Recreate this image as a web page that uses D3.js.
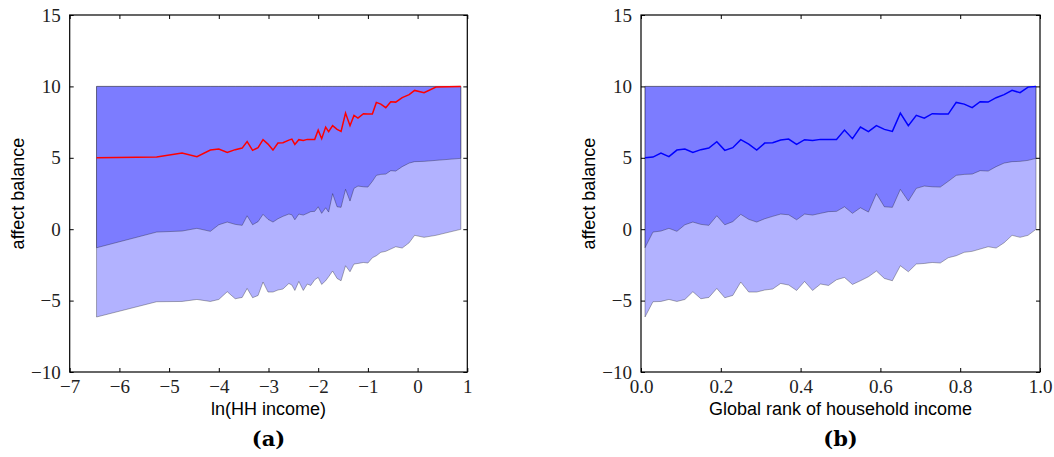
<!DOCTYPE html>
<html>
<head>
<meta charset="utf-8">
<script src="https://cdn.jsdelivr.net/npm/d3@7"></script>
<style>
  body { margin: 0; background: #fff; }
  svg { display: block; }
  .tick text { font-family: "Liberation Serif", "DejaVu Serif", serif; }
</style>
</head>
<body>
<svg id="chart" width="1054" height="457"></svg>
<script>
// x positions of the 50 income bins, one list per panel
var rankX = [0.01, 0.03, 0.05, 0.07, 0.09, 0.11, 0.13, 0.15, 0.17, 0.19,
             0.21, 0.23, 0.25, 0.27, 0.29, 0.31, 0.33, 0.35, 0.37, 0.39,
             0.41, 0.43, 0.45, 0.47, 0.49, 0.51, 0.53, 0.55, 0.57, 0.59,
             0.61, 0.63, 0.65, 0.67, 0.69, 0.71, 0.73, 0.75, 0.77, 0.79,
             0.81, 0.83, 0.85, 0.87, 0.89, 0.91, 0.93, 0.95, 0.97, 0.99];
var lnIncomeX = [-6.46, -5.25, -4.74, -4.44, -4.17, -4.0, -3.83, -3.67, -3.53, -3.43,
                 -3.32, -3.21, -3.11, -3.01, -2.91, -2.81, -2.71, -2.59, -2.53, -2.47,
                 -2.39, -2.30, -2.22, -2.15, -2.07, -2.0, -1.93, -1.85, -1.79, -1.71,
                 -1.62, -1.54, -1.45, -1.36, -1.28, -1.20, -1.09, -1.0, -0.91, -0.83,
                 -0.74, -0.64, -0.54, -0.44, -0.31, -0.17, -0.06, 0.13, 0.37, 0.87];

// affect balance per bin: median, lower edge of dark band, lower edge of light band
var medianY = [5.0, 5.05, 5.33, 5.08, 5.54, 5.61, 5.38, 5.57, 5.68, 6.13,
               5.52, 5.71, 6.27, 5.96, 5.54, 6.03, 6.06, 6.24, 6.31, 5.94,
               6.27, 6.22, 6.29, 6.29, 6.29, 6.94, 6.34, 7.15, 6.83, 7.25,
               6.99, 6.85, 8.13, 7.25, 7.97, 7.78, 8.09, 8.06, 8.06, 8.88,
               8.76, 8.51, 8.93, 8.90, 9.21, 9.42, 9.72, 9.56, 9.95, 10.0];
var midY = [-1.30, -0.20, -0.13, 0.06, -0.15, 0.31, 0.50, 0.34, 0.27, 0.94,
            0.31, 0.53, 1.04, 0.69, 0.50, 0.73, 0.90, 1.06, 1.01, 0.66,
            1.06, 0.99, 1.11, 1.23, 1.25, 1.57, 1.11, 1.50, 1.20, 2.49,
            1.57, 1.53, 2.79, 1.97, 2.86, 3.02, 2.97, 2.95, 3.35, 3.77,
            3.84, 3.86, 4.10, 4.07, 4.38, 4.63, 4.73, 4.75, 4.82, 4.96];
var lowerY = [-6.15, -5.08, -5.06, -4.92, -5.06, -4.92, -4.38, -4.87, -4.78, -4.15,
              -4.80, -4.64, -3.70, -4.40, -4.40, -4.26, -4.19, -3.80, -3.91, -4.29,
              -3.66, -4.29, -3.84, -3.94, -3.54, -3.38, -3.87, -3.61, -3.33, -2.93,
              -3.45, -3.61, -2.56, -2.98, -2.44, -2.40, -2.33, -2.37, -2.0, -1.86,
              -1.62, -1.55, -1.39, -1.23, -1.32, -0.95, -0.43, -0.57, -0.43, -0.01];
var bandTop = 10;

var yTicks = [-10, -5, 0, 5, 10, 15];
var lnTicks = [-7, -6, -5, -4, -3, -2, -1, 0, 1];
var rankTicks = [0.0, 0.2, 0.4, 0.6, 0.8, 1.0];

var svg = d3.select("#chart");
var plotTop = 15, plotBottom = 372;

var y = d3.scaleLinear().domain([-10, 15]).range([plotBottom, plotTop]);

function minus(s) { return s.replace("-", "\u2212"); }

function drawPanel(opts) {
    var x = d3.scaleLinear().domain(opts.domain).range([opts.left, opts.right]);
    var g = svg.append("g");
    var pts = opts.xs.map(function(v, i) { return i; });

    var outer = d3.area()
        .x(function(i) { return x(opts.xs[i]); })
        .y0(function(i) { return y(lowerY[i]); })
        .y1(function() { return y(bandTop); });
    var inner = d3.area()
        .x(function(i) { return x(opts.xs[i]); })
        .y0(function(i) { return y(midY[i]); })
        .y1(function() { return y(bandTop); });

    [outer, inner].forEach(function(a) {
        g.append("path")
            .attr("d", a(pts))
            .attr("fill", "rgba(0,0,255,0.3)")
            .attr("stroke", "rgba(0,0,0,0.3)")
            .attr("stroke-width", 1);
    });

    g.append("path")
        .attr("d", d3.line()
            .x(function(i) { return x(opts.xs[i]); })
            .y(function(i) { return y(medianY[i]); })(pts))
        .attr("fill", "none")
        .attr("stroke", opts.lineColor)
        .attr("stroke-width", 1.5);

    // axes, ticks pointing inward on all four sides
    var fmtX = opts.fmt;
    g.append("g").attr("transform", "translate(0," + plotBottom + ")")
        .call(d3.axisBottom(x).tickValues(opts.ticks).tickSizeInner(-4).tickSizeOuter(0).tickPadding(8)
            .tickFormat(function(d) { return minus(fmtX(d)); }));
    g.append("g").attr("transform", "translate(0," + plotTop + ")")
        .call(d3.axisTop(x).tickValues(opts.ticks).tickSizeInner(-4).tickSizeOuter(0).tickFormat(""));
    g.append("g").attr("transform", "translate(" + opts.left + ",0)")
        .call(d3.axisLeft(y).tickValues(yTicks).tickSizeInner(-4).tickSizeOuter(0).tickPadding(9)
            .tickFormat(function(d) { return minus(String(d)); }));
    g.append("g").attr("transform", "translate(" + opts.right + ",0)")
        .call(d3.axisRight(y).tickValues(yTicks).tickSizeInner(-4).tickSizeOuter(0).tickFormat(""));

    g.selectAll(".domain").remove();
    g.selectAll(".tick line").attr("stroke", "#000");
    g.selectAll(".tick text").attr("font-size", 19).attr("fill", "#222");

    g.append("rect")
        .attr("x", opts.left).attr("y", plotTop)
        .attr("width", opts.right - opts.left).attr("height", plotBottom - plotTop)
        .attr("fill", "none").attr("stroke", "#000").attr("stroke-width", 1.2);

    var cx = (opts.left + opts.right) / 2;
    g.append("text")
        .attr("x", cx).attr("y", 415)
        .attr("text-anchor", "middle")
        .attr("font-family", "Liberation Sans, Arial, sans-serif")
        .attr("font-size", 18)
        .text(opts.xLabel);
    g.append("text")
        .attr("transform", "translate(" + (opts.left - 46) + "," + ((plotTop + plotBottom) / 2) + ") rotate(-90)")
        .attr("text-anchor", "middle")
        .attr("font-family", "Liberation Sans, Arial, sans-serif")
        .attr("font-size", 18)
        .text("affect balance");
    g.append("text")
        .attr("x", cx).attr("y", 446)
        .attr("text-anchor", "middle")
        .attr("font-family", "DejaVu Serif, serif")
        .attr("font-weight", "bold")
        .attr("font-size", 21)
        .text(opts.tag);
}

drawPanel({
    left: 69.7, right: 467.3, domain: [-7, 1], xs: lnIncomeX,
    ticks: lnTicks, fmt: function(d) { return String(d); },
    lineColor: "#ff0000", xLabel: "ln(HH income)", tag: "(a)"
});
drawPanel({
    left: 641, right: 1040, domain: [0, 1], xs: rankX,
    ticks: rankTicks, fmt: d3.format(".1f"),
    lineColor: "#0000ff", xLabel: "Global rank of household income", tag: "(b)"
});
</script>
</body>
</html>
